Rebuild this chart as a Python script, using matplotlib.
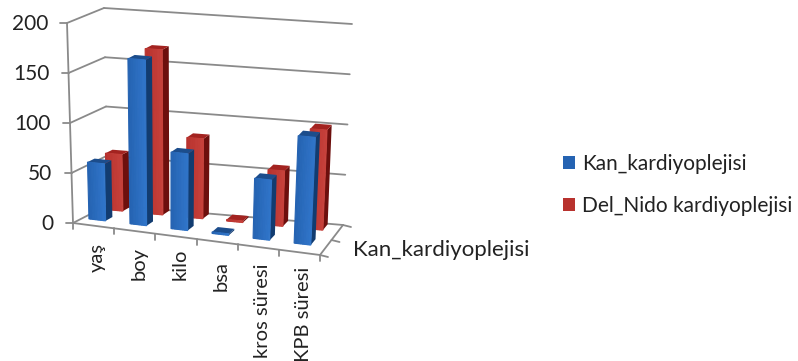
import numpy as np
import matplotlib
matplotlib.use('Agg')
import matplotlib.pyplot as plt
from matplotlib.patches import Polygon, Patch
from matplotlib.colors import to_rgb

categories = ['yaş', 'boy', 'kilo', 'bsa', 'kros süresi', 'KPB süresi']
kan = [57, 165, 76, 1.5, 59, 105]
del_nido = [57, 166, 80, 1.5, 55, 99]
series_names = ['Kan_kardiyoplejisi', 'Del_Nido kardiyoplejisi']
z_ticks = [0, 50, 100, 150, 200]
z_max = 200

plt.rcParams['font.family'] = ['Lato', 'DejaVu Sans']
grid = '#8a8a8a'
text_col = '#222222'

# corners of the 3d box in pixels, (x along categories, depth, height)
c000 = np.array([73, 223.])
c100 = np.array([320, 255.])
c010 = np.array([108, 205.])
c110 = np.array([343, 225.])
c001 = np.array([67, 23.])
c101 = np.array([330, 48.])
c011 = np.array([104, 8.])
c111 = np.array([352, 24.])


def proj(x, d, z):
    # trilinear mapping, good enough for the small excel perspective
    t = z / z_max
    b0 = c000 * (1 - x) + c100 * x
    b1 = c010 * (1 - x) + c110 * x
    t0 = c001 * (1 - x) + c101 * x
    t1 = c011 * (1 - x) + c111 * x
    low = b0 * (1 - d) + b1 * d
    high = t0 * (1 - d) + t1 * d
    return low * (1 - t) + high * t


fig = plt.figure(figsize=(7.98, 3.61), dpi=100)
ax = fig.add_axes([0, 0, 1, 1])
ax.set_xlim(0, 798)
ax.set_ylim(361, 0)
ax.axis('off')


def line(p, q, lw=1.3):
    ax.plot([p[0], q[0]], [p[1], q[1]], color=grid, lw=lw, solid_capstyle='round', zorder=1)


# walls
for z in z_ticks:
    line(proj(0, 0, z), proj(0, 1, z))
    line(proj(0, 1, z), proj(1, 1, z))
    p = proj(0, 0, z)
    line(p, p + np.array([-7, 0]))
    ax.text(p[0] - 19, p[1] + 1, str(z), ha='right', va='center', fontsize=15, color=text_col)
line(proj(0, 0, 0), proj(0, 0, z_max))
line(proj(0, 0, 0), proj(1, 0, 0))
line(proj(1, 0, 0), proj(1, 1, 0))

# ticks on the floor edges
n = len(categories)
for i in range(n + 1):
    p = proj(i / n, 0, 0)
    line(p, p + np.array([0, 6]))
for d in [0, 0.5, 1]:
    p = proj(1, d, 0)
    line(p, p + np.array([8, 2]))


def bar(i, d0, d1, value, front_l, front_r, side, top):
    x0 = (i + 0.16 + 0.01 * i) / n
    x1 = x0 + 0.41 / n
    a = proj(x1, d0, 0)
    b = proj(x1, d1, 0)
    c = proj(x1, d1, value)
    e = proj(x1, d0, value)
    ax.add_patch(Polygon([a, b, c, e], color=side, lw=0, zorder=3))
    ax.add_patch(Polygon([proj(x0, d0, value), proj(x1, d0, value), proj(x1, d1, value), proj(x0, d1, value)],
                         color=top, lw=0, zorder=3))
    steps = 10
    cl = np.array(to_rgb(front_l))
    cr = np.array(to_rgb(front_r))
    for s in range(steps):
        u0 = x0 + (x1 - x0) * s / steps
        u1 = x0 + (x1 - x0) * (s + 1) / steps
        f = s / (steps - 1)
        col = cl * (1 - f) + cr * f
        ax.add_patch(Polygon([proj(u0, d0, 0), proj(u1, d0, 0), proj(u1, d0, value), proj(u0, d0, value)],
                             facecolor=col, edgecolor=col, lw=0.8, zorder=3))


for i in range(n):
    bar(i, 0.78, 0.98, del_nido[i], '#b8322e', '#c6403a', '#6d0f0d', '#a32320')
for i in range(n):
    bar(i, 0.27, 0.47, kan[i], '#2563b2', '#2f74c8', '#123c70', '#1c4d8c')

# category labels
offs = [17, 16, 12, 19, 16, 14]
for i, name in enumerate(categories):
    p = proj((i + 0.5) / n, 0, 0)
    ax.text(p[0] + 4, p[1] + offs[i], name, rotation=90, ha='center', va='top',
            fontsize=14.5, color=text_col)

ax.text(353, 250, series_names[0], ha='left', va='center', fontsize=16, color=text_col)

handles = [Patch(color='#2563b2', lw=0), Patch(color='#b8322e', lw=0)]
ax.legend(handles, series_names, loc='center left', bbox_to_anchor=(563 / 798, 1 - 185 / 361),
          frameon=False, fontsize=15, labelcolor=text_col, handlelength=0.58, handleheight=0.58,
          handletextpad=0.35, labelspacing=1.05, borderpad=0, borderaxespad=0)

fig.savefig('out.png', dpi=100)
